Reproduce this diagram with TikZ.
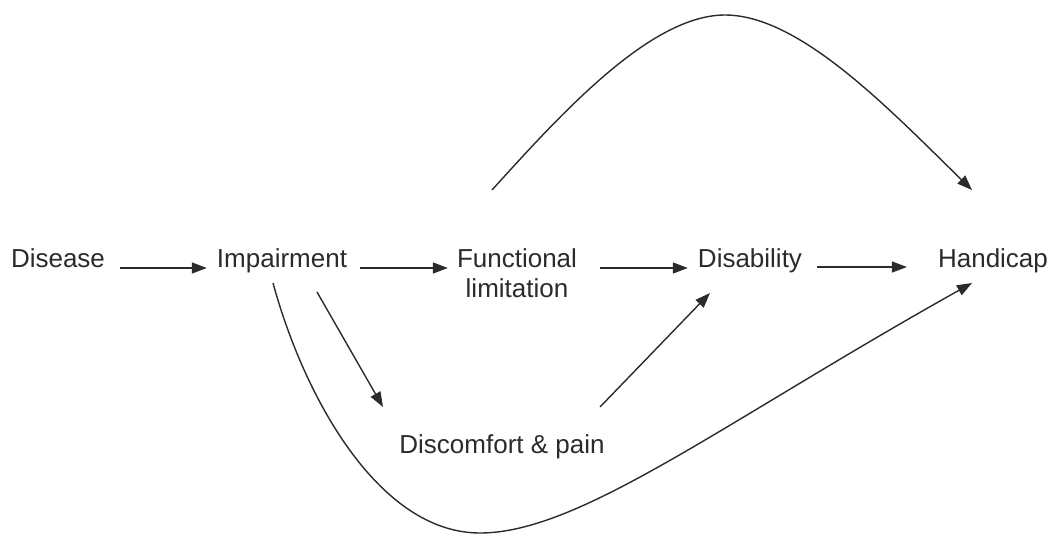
\documentclass[tikz,border=0pt]{standalone}
\usepackage{fontspec}
\setmainfont{Liberation Sans}
\usetikzlibrary{arrows.meta}
\definecolor{ink}{HTML}{2B2B2B}
\tikzset{
  lbl/.style={inner sep=0pt, text=ink, font=\fontsize{26}{30}\selectfont},
  arr/.style={draw=ink, line width=1.4pt, -{Triangle[length=15pt,width=11pt]}},
}
\begin{document}
\begin{tikzpicture}[x=1pt,y=-1pt]
\useasboundingbox[fill=white] (0,0) rectangle (1054,536);
\node[lbl, anchor=base] (dis) at (58,267) {Disease};
\node[lbl, anchor=base] (imp) at (282,267) {Impairment};
\node[lbl, anchor=north, align=center] (func) at (517,248) {Functional\\limitation};
\node[lbl, anchor=base] (dsb) at (750,267) {Disability};
\node[lbl, anchor=base] (hand) at (993,267) {Handicap};
\node[lbl, anchor=base] (pain) at (502,453) {Discomfort \& pain};

\draw[arr] ([shift={(15,1)}]dis.base east) -- ([shift={(-10,1)}]imp.base west);
\draw[arr] ([shift={(13,1)}]imp.base east) -- ([shift={(-9,1)}]func.west |- imp.base);
\draw[arr] ([shift={(23,1)}]func.east |- imp.base) -- ([shift={(-10,1)}]dsb.base west);
\draw[arr] ([shift={(15,0)}]dsb.base east) -- ([shift={(-31,0)}]hand.base west);
\draw[arr] ([shift={(35,25)}]imp.base) -- ([shift={(-119,-46)}]pain.base);
\draw[arr] ([shift={(98,-46)}]pain.base) -- ([shift={(-40,26)}]dsb.base);
\draw[arr] ([shift={(-25,-58)}]func.north) .. controls (560,115) and (650,15) .. (725,15)
  .. controls (800,15) and (890,110) .. ([shift={(-21,-77)}]hand.base);
\draw[arr] ([shift={(-9,16)}]imp.base) .. controls (305,400) and (380,533) .. (480,533)
  .. controls (580,533) and (722,423) .. ([shift={(-21,16)}]hand.base);
\end{tikzpicture}
\end{document}
